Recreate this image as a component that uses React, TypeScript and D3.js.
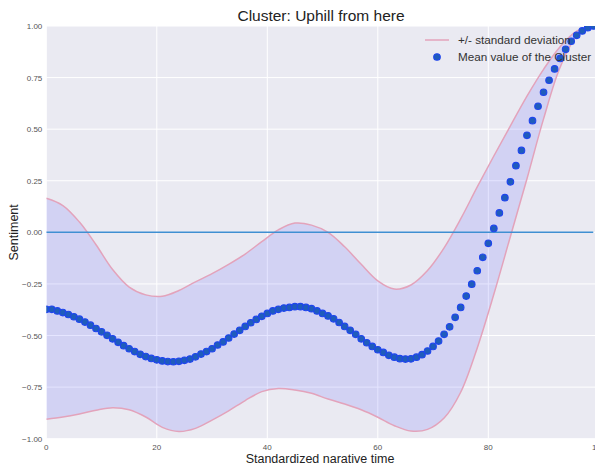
import { useEffect, useRef } from "react";
import * as d3 from "d3";

const WIDTH = 595;
const HEIGHT = 468;
const MARGIN = { top: 26, left: 46.3, bottom: 29.3 };
const PLOT_W = 552.5; // x axis runs 0..100, the right edge falls outside the picture

// mean value of the cluster, one dot per standardized time step 0..99
const meanValues = [
  -0.373, -0.373, -0.381, -0.389, -0.398, -0.409, -0.421, -0.435, -0.45, -0.466,
  -0.482, -0.499, -0.516, -0.533, -0.549, -0.564, -0.578, -0.591, -0.602, -0.611,
  -0.618, -0.623, -0.626, -0.627, -0.625, -0.62, -0.614, -0.603, -0.59, -0.578,
  -0.564, -0.546, -0.531, -0.512, -0.493, -0.475, -0.456, -0.438, -0.422, -0.407,
  -0.393, -0.381, -0.373, -0.367, -0.364, -0.36, -0.36, -0.364, -0.37, -0.381,
  -0.393, -0.405, -0.419, -0.437, -0.456, -0.475, -0.494, -0.516, -0.535, -0.553,
  -0.569, -0.582, -0.596, -0.605, -0.612, -0.614, -0.613, -0.605, -0.593, -0.575,
  -0.553, -0.527, -0.494, -0.458, -0.412, -0.364, -0.309, -0.251, -0.186, -0.121,
  -0.053, 0.019, 0.094, 0.168, 0.245, 0.323, 0.397, 0.47, 0.541, 0.611,
  0.679, 0.737, 0.792, 0.843, 0.887, 0.926, 0.955, 0.976, 0.992, 1.0,
];

// +/- standard deviation band, read every 3 steps
const bandSteps = [
  0, 3, 6, 9, 12, 15, 18, 21, 24, 27, 30, 33, 36, 39, 42, 45, 48, 51, 54, 57, 60,
  63, 66, 69, 72, 75, 78, 81, 84, 87, 90, 93, 96, 99,
];
const upperValues = [
  0.165, 0.13, 0.05, -0.06, -0.18, -0.265, -0.303, -0.31, -0.282, -0.24, -0.2,
  -0.155, -0.105, -0.045, 0.012, 0.045, 0.035, 0.0, -0.07, -0.155, -0.235,
  -0.275, -0.255, -0.185, -0.075, 0.065, 0.22, 0.37, 0.516, 0.66, 0.79, 0.9,
  0.975, 1.0,
];
const lowerValues = [
  -0.906, -0.895, -0.88, -0.862, -0.85, -0.86, -0.895, -0.945, -0.965, -0.95,
  -0.91, -0.865, -0.815, -0.772, -0.757, -0.764, -0.78, -0.808, -0.832, -0.86,
  -0.896, -0.937, -0.963, -0.955, -0.9, -0.775, -0.56, -0.3, -0.02, 0.26, 0.55,
  0.8, 0.95, 1.0,
];

const xTicks = [0, 20, 40, 60, 80, 100];
const yTicks = [-1, -0.75, -0.5, -0.25, 0, 0.25, 0.5, 0.75, 1];

const TITLE = "Cluster: Uphill from here";
const X_LABEL = "Standardized narative time";
const Y_LABEL = "Sentiment";
const LEGEND = ["+/- standard deviation", "Mean value of the Cluster"];

const FONT = "'Liberation Sans', Arial, sans-serif";
const BG = "#eaeaf2";
const BAND_LINE = "#e3a3bb";
const BAND_FILL = "rgba(0, 0, 255, 0.1)";
const DOT_FILL = "#1f5cbc";
const DOT_EDGE = "#1f45ee";
const ZERO_LINE = "#3f8fd2";

const App = () => {
  const ref = useRef<SVGSVGElement | null>(null);

  useEffect(() => {
    document.body.style.margin = "0";
    const svg = d3.select(ref.current);
    svg.selectAll("*").remove();

    const plotH = HEIGHT - MARGIN.top - MARGIN.bottom;
    const x = d3.scaleLinear().domain([0, 100]).range([0, PLOT_W]);
    const y = d3.scaleLinear().domain([-1, 1]).range([plotH, 0]);

    svg
      .append("defs")
      .append("clipPath")
      .attr("id", "plot-clip")
      .append("rect")
      .attr("width", PLOT_W)
      .attr("height", plotH);

    const g = svg
      .append("g")
      .attr("transform", `translate(${MARGIN.left},${MARGIN.top})`);

    g.append("rect").attr("width", PLOT_W).attr("height", plotH).attr("fill", BG);

    // white grid
    g.selectAll(".gx")
      .data(xTicks)
      .enter()
      .append("line")
      .attr("x1", (d) => x(d))
      .attr("x2", (d) => x(d))
      .attr("y1", 0)
      .attr("y2", plotH)
      .attr("stroke", "#fff")
      .attr("stroke-width", 1);
    g.selectAll(".gy")
      .data(yTicks)
      .enter()
      .append("line")
      .attr("x1", 0)
      .attr("x2", PLOT_W)
      .attr("y1", (d) => y(d))
      .attr("y2", (d) => y(d))
      .attr("stroke", "#fff")
      .attr("stroke-width", 1);

    const plot = g.append("g").attr("clip-path", "url(#plot-clip)");

    const band = bandSteps.map((s, i) => ({ s, hi: upperValues[i], lo: lowerValues[i] }));
    const area = d3
      .area<{ s: number; hi: number; lo: number }>()
      .x((d) => x(d.s))
      .y0((d) => y(d.lo))
      .y1((d) => y(d.hi))
      .curve(d3.curveCatmullRom);
    plot.append("path").attr("d", area(band)).attr("fill", BAND_FILL);

    const edge = (key: "hi" | "lo") =>
      d3
        .line<{ s: number; hi: number; lo: number }>()
        .x((d) => x(d.s))
        .y((d) => y(d[key]))
        .curve(d3.curveCatmullRom)(band);
    plot.append("path").attr("d", edge("hi")).attr("fill", "none").attr("stroke", BAND_LINE).attr("stroke-width", 1.5);
    plot.append("path").attr("d", edge("lo")).attr("fill", "none").attr("stroke", BAND_LINE).attr("stroke-width", 1.5);

    // zero reference line
    plot
      .append("line")
      .attr("x1", x(0))
      .attr("x2", x(meanValues.length - 1))
      .attr("y1", y(0))
      .attr("y2", y(0))
      .attr("stroke", ZERO_LINE)
      .attr("stroke-width", 1.5);

    plot
      .selectAll(".dot")
      .data(meanValues)
      .enter()
      .append("circle")
      .attr("cx", (_, i) => x(i))
      .attr("cy", (d) => y(d))
      .attr("r", 3.3)
      .attr("fill", DOT_FILL)
      .attr("stroke", DOT_EDGE)
      .attr("stroke-width", 1.1);

    // tick labels
    g.selectAll(".tx")
      .data(xTicks)
      .enter()
      .append("text")
      .attr("x", (d) => x(d))
      .attr("y", plotH + 11)
      .attr("text-anchor", "middle")
      .attr("font-family", FONT)
      .attr("font-size", 8)
      .attr("fill", "#555")
      .text((d) => d3.format("d")(d));
    g.selectAll(".ty")
      .data(yTicks)
      .enter()
      .append("text")
      .attr("x", -4)
      .attr("y", (d) => y(d) + 3)
      .attr("text-anchor", "end")
      .attr("font-family", FONT)
      .attr("font-size", 8)
      .attr("fill", "#555")
      .text((d) => d3.format(".2f")(d).replace("-", "\u2212"));

    // titles
    svg
      .append("text")
      .attr("x", 321)
      .attr("y", 21)
      .attr("text-anchor", "middle")
      .attr("font-family", FONT)
      .attr("font-size", 15.5)
      .attr("fill", "#222")
      .text(TITLE);
    svg
      .append("text")
      .attr("x", 320)
      .attr("y", 463)
      .attr("text-anchor", "middle")
      .attr("font-family", FONT)
      .attr("font-size", 12.5)
      .attr("fill", "#222")
      .text(X_LABEL);
    svg
      .append("text")
      .attr("transform", `translate(18,${MARGIN.top + y(0)}) rotate(-90)`)
      .attr("text-anchor", "middle")
      .attr("font-family", FONT)
      .attr("font-size", 12.5)
      .attr("fill", "#222")
      .text(Y_LABEL);

    // legend
    const lg = svg.append("g");
    lg.append("line")
      .attr("x1", 425)
      .attr("x2", 449)
      .attr("y1", 40)
      .attr("y2", 40)
      .attr("stroke", BAND_LINE)
      .attr("stroke-width", 1.5);
    lg.append("circle")
      .attr("cx", 437)
      .attr("cy", 57)
      .attr("r", 3.3)
      .attr("fill", DOT_FILL)
      .attr("stroke", DOT_EDGE)
      .attr("stroke-width", 1.1);
    lg.selectAll("text")
      .data(LEGEND)
      .enter()
      .append("text")
      .attr("x", 458)
      .attr("y", (_, i) => 44 + i * 17)
      .attr("font-family", FONT)
      .attr("font-size", 11.7)
      .attr("fill", "#333")
      .text((d) => d);
  }, []);

  return (
    <svg
      ref={ref}
      width={WIDTH}
      height={HEIGHT}
      style={{ position: "absolute", left: 0, top: 0, background: "#fff" }}
    />
  );
};

export default App;
